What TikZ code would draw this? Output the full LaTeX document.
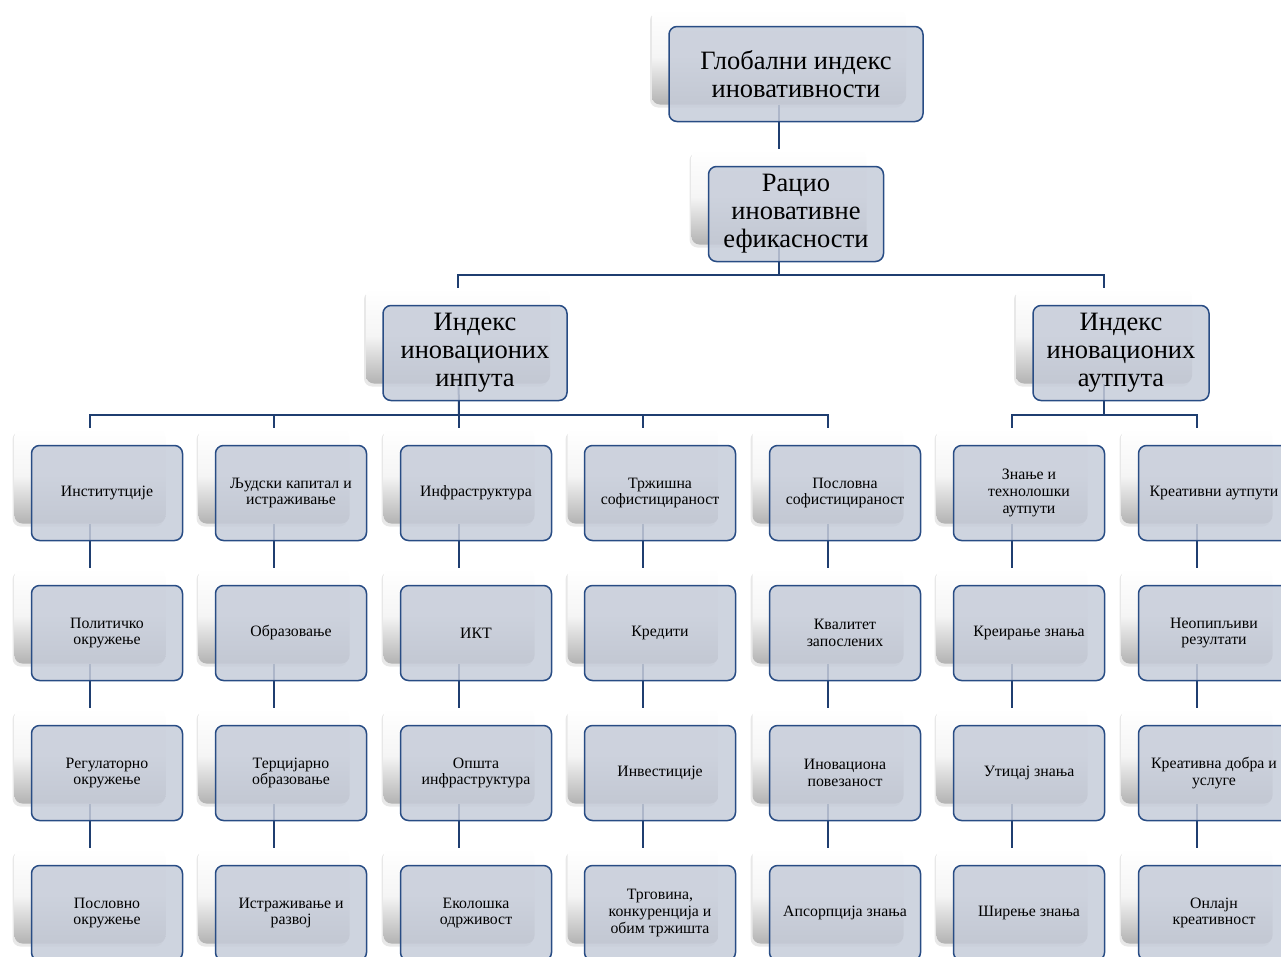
\documentclass[tikz,border=0pt]{standalone}
\usepackage{fontspec}
\setmainfont{Liberation Serif}
\usetikzlibrary{shadows,backgrounds}

\definecolor{giline}{RGB}{31,62,112}
\definecolor{giedge}{RGB}{40,76,132}
\definecolor{gifill}{RGB}{198,204,217}

\tikzset{
  back/.style={rounded corners=8pt, minimum width=#1, minimum height=95pt,
    inner sep=0pt, top color=white, bottom color=black!30, middle color=white!96!black,
    drop shadow={shadow xshift=-2pt, shadow yshift=-3pt, opacity=0.18}},
  back/.default=151pt,
  front/.style={rounded corners=8pt, minimum width=#1, minimum height=95pt,
    inner sep=0pt, draw=giedge, line width=1.5pt, fill=gifill, fill opacity=0.85,
    text opacity=1, align=center, xshift=17pt, yshift=-17pt},
  front/.default=151pt,
  bigtxt/.style={font=\fontsize{26.5}{28}\selectfont},
  smalltxt/.style={font=\fontsize{15.8}{16.6}\selectfont},
  link/.style={draw=giline, line width=2pt},
}

\begin{document}
\begin{tikzpicture}[x=1pt, y=-1pt]
  \useasboundingbox (0,0) rectangle (1281,956);

  % upper levels
  \node[back=254pt, label={[front=254pt, bigtxt]center:{Глобални индекс\\иновативности}}] (gii) at (779,57) {};
  \node[back=175pt, label={[front=175pt, bigtxt]center:{Рацио\\иновативне\\ефикасности}}] (rie) at (779,197) {};
  \node[back=184pt, label={[front=184pt, bigtxt]center:{Индекс\\иновационих\\инпута}}] (iin) at (458,336) {};
  \node[back=176pt, label={[front=176pt, bigtxt]center:{Индекс\\иновационих\\аутпута}}] (iout) at (1104,336) {};

  % inputs
  \node[back, label={[front, smalltxt]center:{Институтције}}] (inst) at (90,476) {};
  \node[back, label={[front, smalltxt]center:{Политичко\\окружење}}] (polit) at (90,616) {};
  \node[back, label={[front, smalltxt]center:{Регулаторно\\окружење}}] (regul) at (90,756) {};
  \node[back, label={[front, smalltxt]center:{Пословно\\окружење}}] (poslo) at (90,896) {};

  \node[back, label={[front, smalltxt]center:{Људски капитал и\\истраживање}}] (ljk) at (274,476) {};
  \node[back, label={[front, smalltxt]center:{Образовање}}] (obraz) at (274,616) {};
  \node[back, label={[front, smalltxt]center:{Терцијарно\\образовање}}] (terc) at (274,756) {};
  \node[back, label={[front, smalltxt]center:{Истраживање и\\развој}}] (irr) at (274,896) {};

  \node[back, label={[front, smalltxt]center:{Инфраструктура}}] (infra) at (459,476) {};
  \node[back, label={[front, smalltxt]center:{ИКТ}}] (ikt) at (459,616) {};
  \node[back, label={[front, smalltxt]center:{Општа\\инфраструктура}}] (opsta) at (459,756) {};
  \node[back, label={[front, smalltxt]center:{Еколошка\\одрживост}}] (ekol) at (459,896) {};

  \node[back, label={[front, smalltxt]center:{Тржишна\\софистицираност}}] (trz) at (643,476) {};
  \node[back, label={[front, smalltxt]center:{Кредити}}] (kred) at (643,616) {};
  \node[back, label={[front, smalltxt]center:{Инвестиције}}] (inv) at (643,756) {};
  \node[back, label={[front, smalltxt]center:{Трговина,\\конкуренција и\\обим тржишта}}] (trg) at (643,896) {};

  \node[back, label={[front, smalltxt]center:{Пословна\\софистицираност}}] (posl) at (828,476) {};
  \node[back, label={[front, smalltxt]center:{Квалитет\\запослених}}] (kval) at (828,616) {};
  \node[back, label={[front, smalltxt]center:{Иновациона\\повезаност}}] (ipov) at (828,756) {};
  \node[back, label={[front, smalltxt]center:{Апсорпција знања}}] (aps) at (828,896) {};

  % outputs
  \node[back, label={[front, smalltxt]center:{Знање и\\технолошки\\аутпути}}] (znt) at (1012,476) {};
  \node[back, label={[front, smalltxt]center:{Креирање знања}}] (kzn) at (1012,616) {};
  \node[back, label={[front, smalltxt]center:{Утицај знања}}] (uzn) at (1012,756) {};
  \node[back, label={[front, smalltxt]center:{Ширење знања}}] (szn) at (1012,896) {};

  \node[back, label={[front, smalltxt]center:{Креативни аутпути}}] (kra) at (1197,476) {};
  \node[back, label={[front, smalltxt]center:{Неопипљиви\\резултати}}] (neop) at (1197,616) {};
  \node[back, label={[front, smalltxt]center:{Креативна добра и\\услуге}}] (kdu) at (1197,756) {};
  \node[back, label={[front, smalltxt]center:{Онлајн\\креативност}}] (onl) at (1197,896) {};

  % connectors behind the cards
  \begin{scope}[on background layer]
    \coordinate (topbus) at (779,275);
    \coordinate (inbus) at (459,415);
    \coordinate (outbus) at (1104,415);
    \draw[link] (gii) -- (rie) -- (topbus);
    \draw[link] (topbus) -| (iin);
    \draw[link] (topbus) -| (iout);
    \draw[link] (iin) -- (inbus);
    \draw[link] (iout) -- (outbus);
    \foreach \c in {inst,ljk,infra,trz,posl} \draw[link] (inbus) -| (\c);
    \foreach \c in {znt,kra} \draw[link] (outbus) -| (\c);
    \draw[link] (inst) -- (polit) -- (regul) -- (poslo);
    \draw[link] (ljk) -- (obraz) -- (terc) -- (irr);
    \draw[link] (infra) -- (ikt) -- (opsta) -- (ekol);
    \draw[link] (trz) -- (kred) -- (inv) -- (trg);
    \draw[link] (posl) -- (kval) -- (ipov) -- (aps);
    \draw[link] (znt) -- (kzn) -- (uzn) -- (szn);
    \draw[link] (kra) -- (neop) -- (kdu) -- (onl);
  \end{scope}
\end{tikzpicture}
\end{document}
